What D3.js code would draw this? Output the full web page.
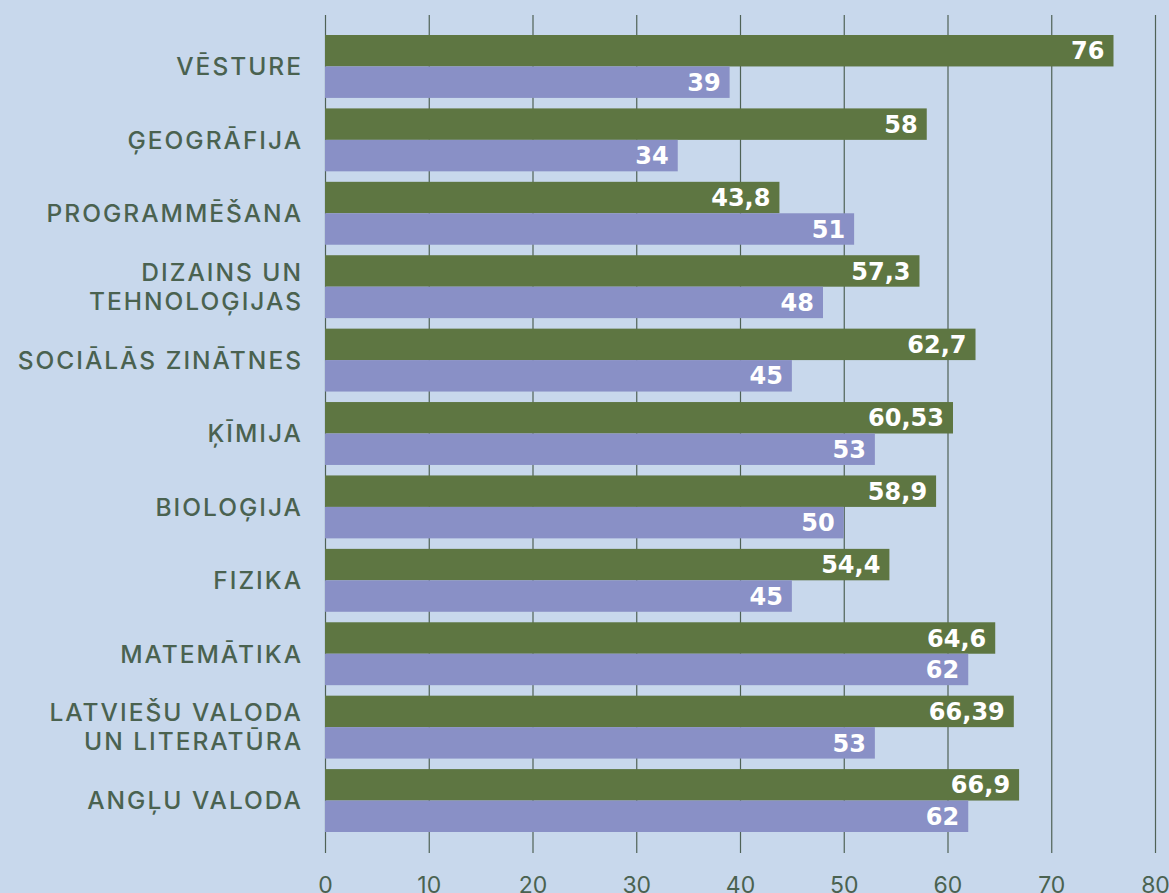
<!DOCTYPE html>
<html>
<head>
<meta charset="utf-8">
<script src="https://cdn.jsdelivr.net/npm/d3@7"></script>
<style>
  html, body { margin: 0; padding: 0; background: #c8d8ec; }
  svg { display: block; }
</style>
</head>
<body>
<svg id="chart"></svg>
<script>
// Data
const subjects = [
  ['VĒSTURE'],
  ['ĢEOGRĀFIJA'],
  ['PROGRAMMĒŠANA'],
  ['DIZAINS UN', 'TEHNOLOĢIJAS'],
  ['SOCIĀLĀS ZINĀTNES'],
  ['ĶĪMIJA'],
  ['BIOLOĢIJA'],
  ['FIZIKA'],
  ['MATEMĀTIKA'],
  ['LATVIEŠU VALODA', 'UN LITERATŪRA'],
  ['ANGĻU VALODA']
];
const greenValues = [76, 58, 43.8, 57.3, 62.7, 60.53, 58.9, 54.4, 64.6, 66.39, 66.9];
const purpleValues = [39, 34, 51, 48, 45, 53, 50, 45, 62, 53, 62];
const xTicks = [0, 10, 20, 30, 40, 50, 60, 70, 80];

const W = 1169, H = 893;
const gridTop = 15;
const textColor = '#4a6250';
const gridColor = '#4f6256';
const labelFont = 'Inter, "Liberation Sans", sans-serif';

const svg = d3.select('#chart').attr('width', W).attr('height', H);

const x = d3.scaleLinear().domain([0, 80]).range([325, 1155]);
const y = d3.scaleBand()
    .domain(d3.range(subjects.length))
    .range([29.75, 837.25])
    .paddingInner(0.143)
    .paddingOuter(0.0715);
const half = y.bandwidth() / 2;

const fmt = v => String(v).replace('.', ',');

// Grid + bottom axis
const axisY = 853;
const axis = svg.append('g')
    .attr('transform', `translate(0,${axisY})`)
    .call(d3.axisBottom(x).tickValues(xTicks).tickSize(-(axisY - gridTop)).tickFormat(d3.format('d')));
axis.select('.domain').remove();
axis.selectAll('line').attr('stroke', gridColor).attr('stroke-width', 1.2);
axis.selectAll('text')
    .attr('y', 40)
    .attr('dy', 0)
    .attr('fill', textColor)
    .attr('font-family', labelFont)
    .attr('font-weight', 400)
    .attr('font-size', '23px');

// Bars
const groups = svg.selectAll('.row')
    .data(subjects)
    .enter()
    .append('g')
    .attr('class', 'row');

groups.append('rect')
    .attr('x', x(0))
    .attr('y', (d, i) => y(i))
    .attr('width', (d, i) => x(greenValues[i]) - x(0))
    .attr('height', half)
    .attr('fill', '#5e7642');

groups.append('rect')
    .attr('x', x(0))
    .attr('y', (d, i) => y(i) + half)
    .attr('width', (d, i) => x(purpleValues[i]) - x(0))
    .attr('height', half)
    .attr('fill', '#8990c6');

const valueFont = 'DejaVu Sans, sans-serif';
groups.append('text')
    .attr('x', (d, i) => x(greenValues[i]) - 9)
    .attr('y', (d, i) => y(i) + half / 2)
    .attr('dy', '0.36em')
    .attr('text-anchor', 'end')
    .attr('fill', '#fff')
    .attr('font-family', valueFont)
    .attr('font-weight', 700)
    .attr('font-size', '24px')
    .text((d, i) => fmt(greenValues[i]));

groups.append('text')
    .attr('x', (d, i) => x(purpleValues[i]) - 9)
    .attr('y', (d, i) => y(i) + half * 1.5)
    .attr('dy', '0.36em')
    .attr('text-anchor', 'end')
    .attr('fill', '#fff')
    .attr('font-family', valueFont)
    .attr('font-weight', 700)
    .attr('font-size', '24px')
    .text((d, i) => fmt(purpleValues[i]));

// Category labels
const lineH = 29;
groups.append('text')
    .attr('x', 303)
    .attr('y', (d, i) => y(i) + half - (d.length - 1) * lineH / 2)
    .attr('text-anchor', 'end')
    .attr('fill', textColor)
    .attr('font-family', labelFont)
    .attr('font-weight', 500)
    .attr('font-size', '24.5px')
    .attr('letter-spacing', '2px')
    .each(function(d) {
        const t = d3.select(this);
        d.forEach((line, k) => {
            t.append('tspan')
                .attr('x', 303)
                .attr('dy', k === 0 ? '0.36em' : lineH)
                .text(line);
        });
    });
</script>
</body>
</html>
